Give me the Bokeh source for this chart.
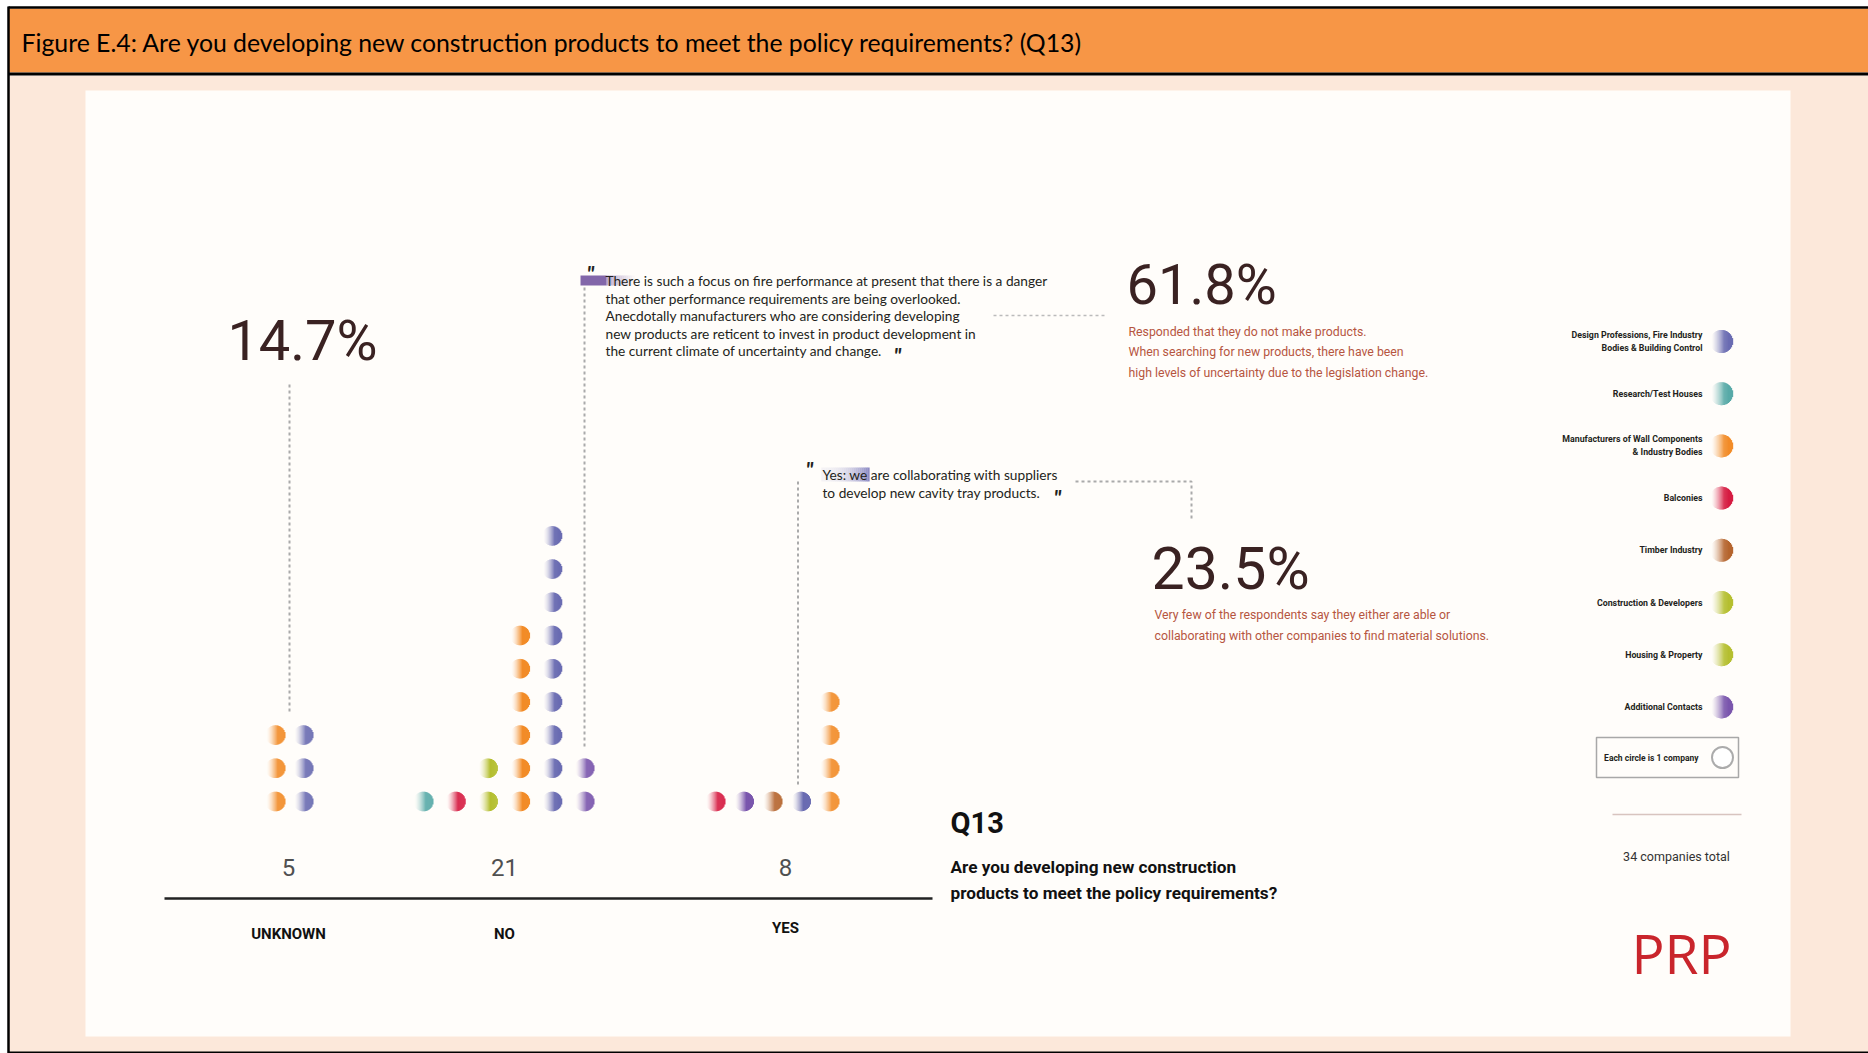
import numpy as np
from bokeh.plotting import figure
from bokeh.models import Range1d
from bokeh.core.properties import value
from bokeh.embed import file_html
from bokeh.resources import INLINE

# ---------------- data ----------------
groups = ["UNKNOWN", "NO", "YES"]
group_totals = ["5", "21", "8"]
group_pcts = ["14.7%", "61.8%", "23.5%"]

sector_keys = ["design", "research", "manufacturers", "balconies", "timber",
               "construction", "housing", "additional"]
sector_labels = [
    ["Design Professions, Fire Industry", "Bodies & Building Control"],
    ["Research/Test Houses"],
    ["Manufacturers of Wall Components", "& Industry Bodies"],
    ["Balconies"],
    ["Timber Industry"],
    ["Construction & Developers"],
    ["Housing & Property"],
    ["Additional Contacts"],
]
sector_colors = ["#6A6CB2", "#58AAA8", "#F28C28", "#D61C42", "#B5652E",
                 "#B5BF30", "#B5BF30", "#7A56AD"]

# dot columns of each answer group: sector of each column and its number of companies
unknown_sectors = ["manufacturers", "design"]
unknown_counts = [3, 3]
no_sectors = ["research", "balconies", "construction", "manufacturers", "design", "additional"]
no_counts = [1, 1, 2, 6, 9, 2]
yes_sectors = ["balconies", "additional", "timber", "design", "manufacturers"]
yes_counts = [1, 1, 1, 1, 4]
total_companies = 34

title = "Figure E.4: Are you developing new construction products to meet the policy requirements? (Q13)"
quote1 = ["There is such a focus on fire performance at present that there is a danger",
          "that other performance requirements are being overlooked.",
          "Anecdotally manufacturers who are considering developing",
          "new products are reticent to invest in product development in",
          "the current climate of uncertainty and change."]
quote2 = ["Yes: we are collaborating with suppliers",
          "to develop new cavity tray products."]
note_no = ["Responded that they do not make products.",
           "When searching for new products, there have been",
           "high levels of uncertainty due to the legislation change."]
note_yes = ["Very few of the respondents say they either are able or",
            "collaborating with other companies to find material solutions."]
question = ["Are you developing new construction",
            "products to meet the policy requirements?"]

# ---------------- layout ----------------
W, H = 1868, 1053
NARROW = "Roboto"
LATO = "Lato"
PANEL = (255, 253, 250)

group_x0 = [275, 423, 715]
group_dx = [28, 32.2, 28.5]
label_x = [288, 504, 785]
row0, row_dy, dot_r = 801, 33.2, 9.8

p = figure(width=W, height=H, x_range=Range1d(0, W), y_range=Range1d(H, 0),
           output_backend="svg", toolbar_location=None, min_border=0)
p.axis.visible = False
p.grid.visible = False
p.outline_line_color = None
p.background_fill_color = "white"
p.border_fill_color = "white"

# page backgrounds
p.quad(left=[8], right=[W], top=[75], bottom=[H], fill_color="#FCE8DA", line_color=None)
p.quad(left=[85], right=[1790], top=[90], bottom=[1036], fill_color="#FFFDFA", line_color=None)
p.quad(left=[8], right=[W], top=[8], bottom=[72], fill_color="#F79646", line_color=None)
p.line(x=[8, W], y=[7, 7], line_color="black", line_width=2.5)
p.line(x=[8, W], y=[73.5, 73.5], line_color="black", line_width=3)
p.line(x=[8, 8], y=[6, H], line_color="black", line_width=2.5)
p.line(x=[8, W], y=[1052, 1052], line_color="black", line_width=2)


def txt(x, y, s, size, color, font, style="normal", align="left", baseline="middle"):
    p.text(x=[x], y=[y], text=[s], text_font=value(font), text_font_size=f"{size}px",
           text_color=color, text_font_style=style, text_align=align, text_baseline=baseline)


def hex_rgb(h):
    h = h.lstrip("#")
    return tuple(int(h[i:i + 2], 16) for i in (0, 2, 4))


def mix(rgb, t, bg=PANEL):
    return "#%02x%02x%02x" % tuple(int(round(bg[k] + (rgb[k] - bg[k]) * t)) for k in range(3))


strips = dict(x=[], y=[], w=[], h=[], c=[])


def add_dot(cx, cy, r, color, n=20):
    rgb = hex_rgb(color)
    for i in range(n):
        u = -1 + (2 * i + 1) / n
        hh = 2 * r * np.sqrt(max(0.0, 1 - u * u))
        t = min(1.0, max(0.0, (u + 0.9) / 1.15)) ** 1.5
        strips["x"].append(cx + u * r)
        strips["y"].append(cy)
        strips["w"].append(2 * r / n + 0.35)
        strips["h"].append(hh)
        strips["c"].append(mix(rgb, t))


color_of = dict(zip(sector_keys, sector_colors))
all_groups = [(unknown_sectors, unknown_counts), (no_sectors, no_counts), (yes_sectors, yes_counts)]
col_x = []
for g, (secs, cnts) in enumerate(all_groups):
    xs = []
    for j, (s, c) in enumerate(zip(secs, cnts)):
        x = group_x0[g] + j * group_dx[g]
        xs.append(x)
        for k in range(c):
            add_dot(x, row0 - k * row_dy, dot_r, color_of[s])
    col_x.append(xs)

# legend
leg_dot_x, leg_text_x, leg_y0, leg_dy = 1721, 1702, 341, 52.2
for i, (lines, col) in enumerate(zip(sector_labels, sector_colors)):
    y = leg_y0 + i * leg_dy
    add_dot(leg_dot_x, y, 11.5, col, n=22)
    offs = [0] if len(lines) == 1 else [-6.5, 6.5]
    for ln, o in zip(lines, offs):
        txt(leg_text_x, y + o, ln, 8.8, "#231F20", NARROW, "bold", "right")

p.rect(x="x", y="y", width="w", height="h", fill_color="c", line_color=None, source=strips)

# quote highlights
hl = dict(x=[], y=[], w=[], h=[], c=[])
purple = hex_rgb("#8064A8")
for i in range(14):
    x0 = 606 + i * 2
    hl["x"].append(x0 + 1); hl["y"].append(280); hl["w"].append(2.3); hl["h"].append(10)
    hl["c"].append(mix(purple, 0.55 * (1 - i / 14)))
lav = hex_rgb("#8E8CC4")
for i in range(24):
    x0 = 821 + i * 2
    hl["x"].append(x0 + 1); hl["y"].append(474); hl["w"].append(2.3); hl["h"].append(14)
    hl["c"].append(mix(lav, (0.1 + 0.9 * (i / 23) ** 2.2)))
p.rect(x="x", y="y", width="w", height="h", fill_color="c", line_color=None, source=hl)
p.quad(left=[580], right=[606], top=[275], bottom=[285], fill_color="#8266A9", line_color=None)

# dashed connectors
dash = dict(line_color="#AAAAAA", line_width=2, line_dash="3 3")
p.line(x=[sum(col_x[0]) / 2] * 2, y=[384, row0 - (max(unknown_counts) - 1) * row_dy - 22], **dash)
p.line(x=[col_x[1][-1]] * 2, y=[287, row0 - (no_counts[-1] - 1) * row_dy - 19], **dash)
p.line(x=[col_x[2][3] - 3] * 2, y=[481, row0 - 17], **dash)
p.line(x=[993, 1106], y=[315, 315], line_color="#BBBBBB", line_width=1.5, line_dash="3 3")
p.line(x=[1075, 1191, 1191], y=[481, 481, 520], **dash)

# axis line & labels
p.line(x=[164, 932], y=[898, 898], line_color="#222222", line_width=2.5)
for g in range(3):
    txt(label_x[g], 867, group_totals[g], 24, "#505050", NARROW, align="center")
    txt(label_x[g], 933 if g < 2 else 927, groups[g], 15, "#111111", NARROW, "bold", "center")

# header
txt(21, 42, title, 24.8, "black", LATO)

# big percentages
PCT = "#3A2222"
txt(302, 340, group_pcts[0], 56, PCT, NARROW, align="center")
txt(1126, 284, group_pcts[1], 56, PCT, NARROW)
txt(1151, 568, group_pcts[2], 59, PCT, NARROW)
NOTE = "#B6553F"
for i, ln in enumerate(note_no):
    txt(1128, 331 + i * 20.5, ln, 12.3, NOTE, NARROW)
for i, ln in enumerate(note_yes):
    txt(1154, 614 + i * 21, ln, 12.3, NOTE, NARROW)

# quotes
for i, ln in enumerate(quote1):
    txt(605, 280 + i * 17.5, ln, 13.7, "#231F20", LATO)
for i, ln in enumerate(quote2):
    txt(822, 474 + i * 18, ln, 13.7, "#231F20", LATO)
QM = dict(size=21, color="#231F20", font=LATO, style="bold italic")
txt(586, 272, '"', **QM)
txt(893, 354, '"', **QM)
txt(805, 468, '"', **QM)
txt(1053, 496, '"', **QM)

# question block
txt(950, 822, "Q13", 29, "#111111", NARROW, "bold")
for i, ln in enumerate(question):
    txt(950, 866 + i * 26, ln, 17.2, "#111111", NARROW, "bold")

# legend box, total, logo
p.quad(left=[1596], right=[1738], top=[737], bottom=[777], fill_color=None,
       line_color="#A8A8A8", line_width=1.5)
txt(1698, 757, "Each circle is 1 company", 8.5, "#231F20", NARROW, "bold", "right")
p.scatter(x=[1722], y=[757], size=21, marker="circle", fill_color="white",
          line_color="#ABABAB", line_width=2)
p.line(x=[1612, 1741], y=[814, 814], line_color="#D8C4BF", line_width=1.5)
txt(1676, 856, f"{total_companies} companies total", 12.5, "#333333", NARROW, align="center")
txt(1631, 952, "PRP", 55, "#C9252C", "Open Sans")

open("out.html", "w").write(file_html(p, INLINE))
